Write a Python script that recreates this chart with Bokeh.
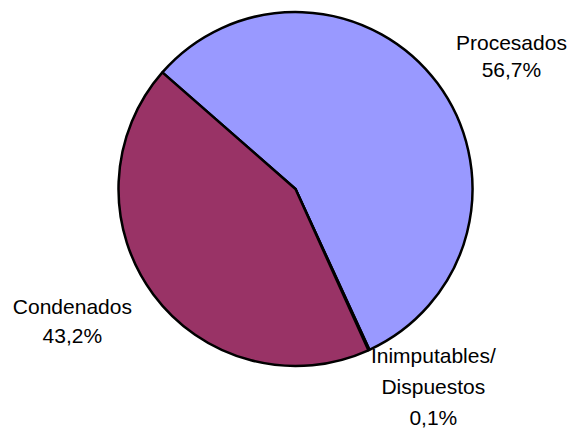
import math
from bokeh.plotting import figure
from bokeh.models import Range1d, ColumnDataSource
from bokeh.core.properties import value
from bokeh.embed import file_html
from bokeh.resources import INLINE

# ---- data ----
categories = ["Procesados", "Inimputables/\nDispuestos", "Condenados"]
percentages = [56.7, 0.1, 43.2]
colors = ["#9999FF", "#FFFFCC", "#993366"]

# ---- layout (pixels of the page, origin at top-left) ----
W, H = 574, 432
cx, cy = 295.0, 432 - 188.5
R = 177.0
first_slice_deg = -48.8          # clockwise from 12 o'clock
label_angle_offset = [5.1, -10.4, 6.0]
label_radius_factor = [1.433, 1.361, 1.464]
label_line_height = [1.2, 1.33, 1.24]

total = sum(percentages)
starts, ends, lx, ly, texts = [], [], [], [], []
acc = first_slice_deg
for i, (cat, pct) in enumerate(zip(categories, percentages)):
    span = 360.0 * pct / total
    t0, t1 = acc, acc + span
    starts.append(math.radians(90 - t0))
    ends.append(math.radians(90 - t1))
    mid = (t0 + t1) / 2 + label_angle_offset[i]
    d = R * label_radius_factor[i]
    lx.append(cx + d * math.sin(math.radians(mid)))
    ly.append(cy + d * math.cos(math.radians(mid)))
    texts.append(f"{cat}\n{pct:.1f}%".replace(".", ","))
    acc = t1

src = ColumnDataSource(dict(start=starts, end=ends, color=colors))

p = figure(width=W, height=H, output_backend="svg", toolbar_location=None,
           x_range=Range1d(0, W), y_range=Range1d(432 - H, 432),
           x_axis_type=None, y_axis_type=None, min_border=0,
           background_fill_color="white", border_fill_color="white")
p.outline_line_color = None
p.grid.visible = False

p.wedge(x=cx, y=cy, radius=R, start_angle="start", end_angle="end",
        direction="clock", fill_color="color", line_color="black",
        line_width=2.5, source=src)

for i in range(len(texts)):
    p.text(x=[lx[i]], y=[ly[i]], text=[texts[i]],
           text_font=value("Liberation Sans"), text_font_size="21px",
           text_align="center", text_baseline="middle",
           text_line_height=label_line_height[i], text_color="black")

open("out.html", "w").write(file_html(p, INLINE))
